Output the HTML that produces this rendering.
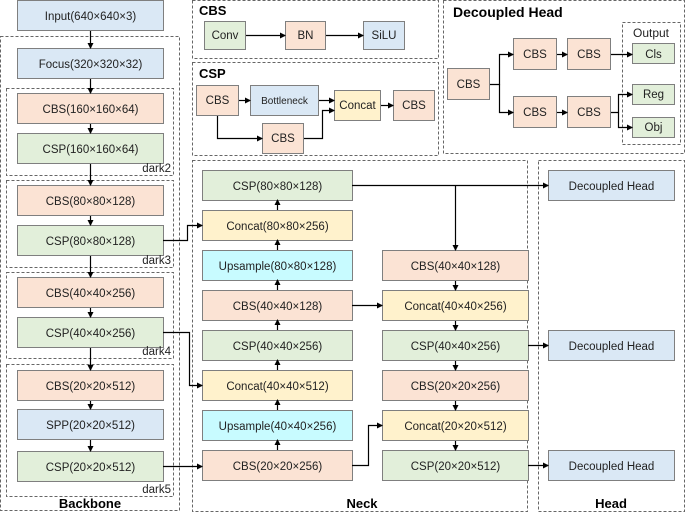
<!DOCTYPE html>
<html><head><meta charset="utf-8"><style>
html,body{margin:0;padding:0;background:#fff}
svg{display:block}
text{font-family:"Liberation Sans",sans-serif;font-size:11.5px;fill:#222}
.b{font-weight:bold;font-size:13px;fill:#000}
</style></head><body>
<svg width="685" height="513" viewBox="0 0 685 513" xmlns="http://www.w3.org/2000/svg">
<defs>
<marker id="a" markerWidth="6" markerHeight="6" refX="5" refY="3" orient="auto" markerUnits="userSpaceOnUse"><path d="M0,0 L6,3 L0,6 z" fill="#000"/></marker>
</defs>
<g fill="none" stroke="#666" stroke-dasharray="3,2" stroke-width="1">
<rect x="0.5" y="36.5" width="179" height="474"/>
<rect x="6.5" y="88.5" width="167" height="87"/>
<rect x="6.5" y="180.5" width="167" height="87"/>
<rect x="6.5" y="272.5" width="167" height="86"/>
<rect x="6.5" y="364.5" width="167" height="132"/>
<rect x="192.5" y="0.5" width="246" height="58"/>
<rect x="192.5" y="62.5" width="246" height="93"/>
<rect x="443.5" y="0.5" width="241" height="153"/>
<rect x="622.5" y="22.5" width="58" height="122"/>
<rect x="192.5" y="160.5" width="335" height="351"/>
<rect x="538.5" y="160.5" width="146" height="351"/>
</g>
<g stroke="#7f7f7f" stroke-width="1">
<rect x="17.5" y="0.5" width="146" height="30" fill="#dae8f5"/>
<rect x="17.5" y="48.5" width="146" height="30" fill="#dae8f5"/>
<rect x="17.5" y="93.5" width="146" height="30" fill="#fbe3d4"/>
<rect x="17.5" y="133.5" width="146" height="30" fill="#e2efda"/>
<rect x="17.5" y="185.5" width="146" height="30" fill="#fbe3d4"/>
<rect x="17.5" y="225.5" width="146" height="30" fill="#e2efda"/>
<rect x="17.5" y="277.5" width="146" height="30" fill="#fbe3d4"/>
<rect x="17.5" y="317.5" width="146" height="30" fill="#e2efda"/>
<rect x="17.5" y="370.5" width="146" height="30" fill="#fbe3d4"/>
<rect x="17.5" y="409.5" width="146" height="30" fill="#dae8f5"/>
<rect x="17.5" y="451.5" width="146" height="30" fill="#e2efda"/>
<rect x="202.5" y="170.5" width="150" height="30" fill="#e2efda"/>
<rect x="202.5" y="210.5" width="150" height="30" fill="#fff2cc"/>
<rect x="202.5" y="250.5" width="150" height="30" fill="#c8fbff"/>
<rect x="202.5" y="290.5" width="150" height="30" fill="#fbe3d4"/>
<rect x="202.5" y="330.5" width="150" height="30" fill="#e2efda"/>
<rect x="202.5" y="370.5" width="150" height="30" fill="#fff2cc"/>
<rect x="202.5" y="410.5" width="150" height="30" fill="#c8fbff"/>
<rect x="202.5" y="450.5" width="150" height="30" fill="#fbe3d4"/>
<rect x="382.5" y="250.5" width="146" height="30" fill="#fbe3d4"/>
<rect x="382.5" y="290.5" width="146" height="30" fill="#fff2cc"/>
<rect x="382.5" y="330.5" width="146" height="30" fill="#e2efda"/>
<rect x="382.5" y="370.5" width="146" height="30" fill="#fbe3d4"/>
<rect x="382.5" y="410.5" width="146" height="30" fill="#fff2cc"/>
<rect x="382.5" y="450.5" width="146" height="30" fill="#e2efda"/>
<rect x="548.5" y="170.5" width="126" height="30" fill="#dae8f5"/>
<rect x="548.5" y="330.5" width="126" height="30" fill="#dae8f5"/>
<rect x="548.5" y="450.5" width="126" height="30" fill="#dae8f5"/>
<rect x="204.5" y="21.5" width="41" height="28" fill="#e2efda"/>
<rect x="285.5" y="21.5" width="40" height="28" fill="#fbe3d4"/>
<rect x="363.5" y="21.5" width="41" height="28" fill="#dae8f5"/>
<rect x="196.5" y="85.5" width="42" height="30" fill="#fbe3d4"/>
<rect x="250.5" y="85.5" width="68" height="30" fill="#dae8f5"/>
<rect x="334.5" y="90.5" width="46" height="30" fill="#fff2cc"/>
<rect x="393.5" y="90.5" width="41" height="30" fill="#fbe3d4"/>
<rect x="262.5" y="123.5" width="41" height="30" fill="#fbe3d4"/>
<rect x="447.5" y="68.5" width="42" height="31" fill="#fbe3d4"/>
<rect x="513.5" y="38.5" width="43" height="31" fill="#fbe3d4"/>
<rect x="567.5" y="38.5" width="43" height="31" fill="#fbe3d4"/>
<rect x="513.5" y="96.5" width="43" height="31" fill="#fbe3d4"/>
<rect x="567.5" y="96.5" width="43" height="31" fill="#fbe3d4"/>
<rect x="632.5" y="43.5" width="42" height="20" fill="#e2efda"/>
<rect x="632.5" y="84.5" width="42" height="20" fill="#e2efda"/>
<rect x="632.5" y="117.5" width="42" height="20" fill="#e2efda"/>
</g>
<g stroke="#000" stroke-width="1.2" fill="none" marker-end="url(#a)">
<path d="M90.5 31V48"/><path d="M90.5 79V93"/><path d="M90.5 124V133"/><path d="M90.5 164V185"/><path d="M90.5 216V225"/><path d="M90.5 256V277"/><path d="M90.5 308V317"/><path d="M90.5 348V370"/><path d="M90.5 401V409"/><path d="M90.5 440V451"/>
<path d="M163 240.5H187.5V225.5H202"/>
<path d="M163 332.5H189.5V385.5H202"/>
<path d="M163 466.5H202"/>
<path d="M277.5 450V440"/><path d="M277.5 410V400"/><path d="M277.5 370V360"/><path d="M277.5 330V320"/><path d="M277.5 290V280"/><path d="M277.5 250V240"/><path d="M277.5 210V200"/>
<path d="M352 185.5H548"/>
<path d="M455.5 185.5V250"/>
<path d="M352 305.5H382"/>
<path d="M352 465.5H368.5V425.5H382"/>
<path d="M455.5 281V290"/><path d="M455.5 321V330"/><path d="M455.5 361V370"/><path d="M455.5 401V410"/><path d="M455.5 441V450"/>
<path d="M528 345.5H548"/><path d="M528 465.5H548"/>
<path d="M246 35.5H285"/><path d="M326 35.5H363"/>
<path d="M239 100.5H250"/><path d="M319 100.5H334"/><path d="M381 105.5H393"/>
<path d="M217.5 116V138.5H262"/><path d="M304 138.5H322.5V110.5H334"/>
<path d="M490 84.5H499.5V54.5H513"/><path d="M499.5 84.5V112.5H513"/>
<path d="M557 54.5H567"/><path d="M557 112.5H567"/><path d="M611 54.5H632"/>
<path d="M611 112.5H618.5V94.5H632"/><path d="M618.5 112.5V127.5H632"/>
</g>
<g text-anchor="middle">
<text x="90.5" y="20">Input(640×640×3)</text>
<text x="90.5" y="68">Focus(320×320×32)</text>
<text x="90.5" y="113">CBS(160×160×64)</text>
<text x="90.5" y="153">CSP(160×160×64)</text>
<text x="90.5" y="205">CBS(80×80×128)</text>
<text x="90.5" y="245">CSP(80×80×128)</text>
<text x="90.5" y="297">CBS(40×40×256)</text>
<text x="90.5" y="337">CSP(40×40×256)</text>
<text x="90.5" y="390">CBS(20×20×512)</text>
<text x="90.5" y="429">SPP(20×20×512)</text>
<text x="90.5" y="471">CSP(20×20×512)</text>
<text x="277.5" y="190">CSP(80×80×128)</text>
<text x="277.5" y="230">Concat(80×80×256)</text>
<text x="277.5" y="270">Upsample(80×80×128)</text>
<text x="277.5" y="310">CBS(40×40×128)</text>
<text x="277.5" y="350">CSP(40×40×256)</text>
<text x="277.5" y="390">Concat(40×40×512)</text>
<text x="277.5" y="430">Upsample(40×40×256)</text>
<text x="277.5" y="470">CBS(20×20×256)</text>
<text x="455.5" y="270">CBS(40×40×128)</text>
<text x="455.5" y="310">Concat(40×40×256)</text>
<text x="455.5" y="350">CSP(40×40×256)</text>
<text x="455.5" y="390">CBS(20×20×256)</text>
<text x="455.5" y="430">Concat(20×20×512)</text>
<text x="455.5" y="470">CSP(20×20×512)</text>
<text x="611.5" y="190">Decoupled Head</text>
<text x="611.5" y="350">Decoupled Head</text>
<text x="611.5" y="470">Decoupled Head</text>
<text x="225" y="39">Conv</text>
<text x="305.5" y="39">BN</text>
<text x="384" y="39">SiLU</text>
<text x="217.5" y="104">CBS</text>
<text x="284.5" y="104" style="font-size:10px">Bottleneck</text>
<text x="357.5" y="109">Concat</text>
<text x="414" y="109">CBS</text>
<text x="283" y="142">CBS</text>
<text x="468.5" y="88">CBS</text>
<text x="535" y="58">CBS</text><text x="589" y="58">CBS</text>
<text x="535" y="116">CBS</text><text x="589" y="116">CBS</text>
<text x="653.5" y="58">Cls</text>
<text x="653.5" y="98">Reg</text>
<text x="653.5" y="131">Obj</text>
<text x="651" y="37" style="font-size:12px">Output</text>
</g>
<g text-anchor="end" style="font-size:11px">
<text x="171" y="172">dark2</text><text x="171" y="264">dark3</text><text x="171" y="355">dark4</text><text x="171" y="493">dark5</text>
</g>
<text class="b" x="199" y="15">CBS</text>
<text class="b" x="199" y="78">CSP</text>
<text class="b" x="453" y="17" style="font-size:14px">Decoupled Head</text>
<text class="b" x="90" y="508" text-anchor="middle">Backbone</text>
<text class="b" x="362" y="508" text-anchor="middle">Neck</text>
<text class="b" x="611" y="508" text-anchor="middle">Head</text>
</svg>
</body></html>
